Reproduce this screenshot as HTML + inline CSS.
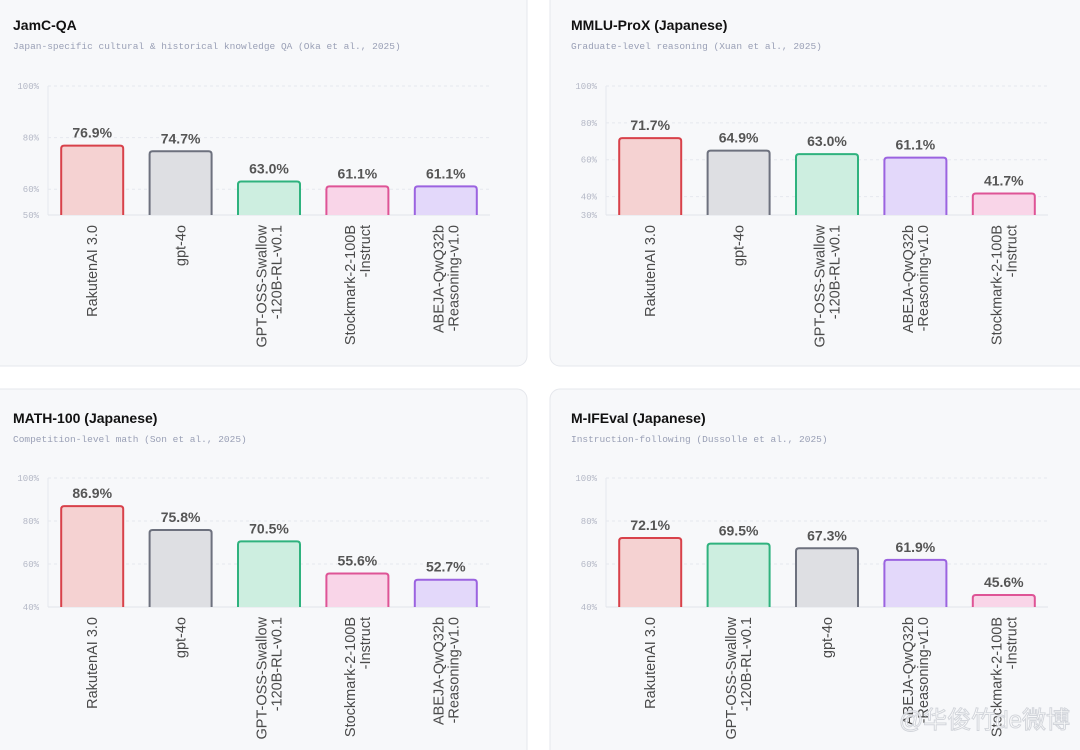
<!DOCTYPE html>
<html><head><meta charset="utf-8"><style>
html,body{margin:0;padding:0;background:#fff;width:1080px;height:750px;overflow:hidden}
svg{display:block}
.t{font-family:"Liberation Sans",sans-serif;font-weight:bold;font-size:14px;fill:#111}
.s{font-family:"Liberation Mono",monospace;font-size:9.5px;fill:#9aa0b6}
.tk{font-family:"Liberation Mono",monospace;font-size:9px;fill:#b4b8c6}
.v{font-family:"Liberation Sans",sans-serif;font-weight:bold;font-size:14px;fill:#555}
.c{font-family:"Liberation Sans",sans-serif;font-size:14.5px;fill:#4a4a4a}
</style></head><body>
<svg id="chart" width="1080" height="750"></svg>
<script>
const p1Names=["RakutenAI 3.0","gpt-4o","GPT-OSS-Swallow|-120B-RL-v0.1","Stockmark-2-100B|-Instruct","ABEJA-QwQ32b|-Reasoning-v1.0"];
const p1Values=[76.9,74.7,63.0,61.1,61.1];
const p1Colors=["red","gray","green","pink","purple"];
const p1Ticks=[50,60,80,100];
const p2Names=["RakutenAI 3.0","gpt-4o","GPT-OSS-Swallow|-120B-RL-v0.1","ABEJA-QwQ32b|-Reasoning-v1.0","Stockmark-2-100B|-Instruct"];
const p2Values=[71.7,64.9,63.0,61.1,41.7];
const p2Colors=["red","gray","green","purple","pink"];
const p2Ticks=[30,40,60,80,100];
const p3Names=["RakutenAI 3.0","gpt-4o","GPT-OSS-Swallow|-120B-RL-v0.1","Stockmark-2-100B|-Instruct","ABEJA-QwQ32b|-Reasoning-v1.0"];
const p3Values=[86.9,75.8,70.5,55.6,52.7];
const p3Colors=["red","gray","green","pink","purple"];
const p3Ticks=[40,60,80,100];
const p4Names=["RakutenAI 3.0","GPT-OSS-Swallow|-120B-RL-v0.1","gpt-4o","ABEJA-QwQ32b|-Reasoning-v1.0","Stockmark-2-100B|-Instruct"];
const p4Values=[72.1,69.5,67.3,61.9,45.6];
const p4Colors=["red","green","gray","purple","pink"];
const p4Ticks=[40,60,80,100];

const PAL={red:["#d8414a","#f5d2d2"],gray:["#6d717e","#dedfe3"],green:["#2fb27e","#cdeee0"],pink:["#de5496","#f9d5e8"],purple:["#9b63e0","#e3d8fa"]};
const NS="http://www.w3.org/2000/svg";
const svg=document.getElementById('chart');
function mk(tag,attrs,parent,text){const e=document.createElementNS(NS,tag);for(const k in attrs)e.setAttribute(k,attrs[k]);if(text!==undefined)e.textContent=text;(parent||svg).appendChild(e);return e;}

function panel(cfg,names,values,colors,ticks){
  const g=mk('g',{});
  
  
  const card=mk('rect',{x:cfg.cx,y:cfg.cy,width:cfg.cw,height:cfg.ch,rx:10,fill:"#f7f8fa",stroke:"#e5e7ec"},g);
  
  
  const t=mk('text',{x:cfg.ox+13,y:cfg.ty,class:'t'},g,cfg.title);
  
  
  const s=mk('text',{x:cfg.ox+13,y:cfg.ty+19,class:'s'},g,cfg.sub);
  
  
  const min=ticks[0],max=ticks[ticks.length-1];
  const y=v=>cfg.bottom-(v-min)/(max-min)*(cfg.bottom-cfg.top);
  const ax0=cfg.ox+48,ax1=cfg.ox+490,band=(ax1-ax0)/names.length;
  const x=i=>ax0+band*(i+0.5);
  ticks.forEach(tv=>{
    if(tv!==min){const gl=mk('line',{x1:ax0,x2:ax1,y1:y(tv),y2:y(tv),stroke:"#e6e8ee","stroke-dasharray":"3,3"},g);
      
      }
    const tl=mk('text',{x:ax0-9,y:y(tv)+3,class:'tk','text-anchor':'end'},g,tv+'%');
    
    
  });
  const ya=mk('line',{x1:ax0,x2:ax0,y1:cfg.top,y2:cfg.bottom,stroke:"#e6e8ee"},g);
  
  
  const xa=mk('line',{x1:ax0,x2:ax1,y1:cfg.bottom,y2:cfg.bottom,stroke:"#e2e4ea"},g);
  
  
  values.forEach((v,i)=>{
    const c=PAL[colors[i]],bw=62,yt=y(v);
    const b=mk('path',{d:`M${x(i)-bw/2},${cfg.bottom} V${yt+3} Q${x(i)-bw/2},${yt} ${x(i)-bw/2+3},${yt} H${x(i)+bw/2-3} Q${x(i)+bw/2},${yt} ${x(i)+bw/2},${yt+3} V${cfg.bottom}`,fill:c[1],stroke:c[0],"stroke-width":2},g);
    
    
    const vl=mk('text',{x:x(i),y:yt-8,class:'v','text-anchor':'middle'},g,v.toFixed(1)+'%');
    
    
    const lines=names[i].split('|');
    lines.forEach((ln,j)=>{
      const lx=x(i)+5+(j-(lines.length-1)/2)*15;
      const cl=mk('text',{x:0,y:0,class:'c','text-anchor':'end',transform:`translate(${lx},${cfg.bottom+10}) rotate(-90)`},g,ln);
      
      
    });
  });
}
panel({id:'jamc-qa',cx:-10,cy:-10,cw:537,ch:376,ox:0,ty:30,top:86,bottom:215,title:"JamC-QA",sub:"Japan-specific cultural & historical knowledge QA (Oka et al., 2025)"},p1Names,p1Values,p1Colors,p1Ticks);
panel({id:'mmlu-prox',cx:550,cy:-10,cw:540,ch:376,ox:558,ty:30,top:86,bottom:215,title:"MMLU-ProX (Japanese)",sub:"Graduate-level reasoning (Xuan et al., 2025)"},p2Names,p2Values,p2Colors,p2Ticks);
panel({id:'math-100',cx:-10,cy:389,cw:537,ch:380,ox:0,ty:423,top:478,bottom:607,title:"MATH-100 (Japanese)",sub:"Competition-level math (Son et al., 2025)"},p3Names,p3Values,p3Colors,p3Ticks);
panel({id:'m-ifeval',cx:550,cy:389,cw:540,ch:380,ox:558,ty:423,top:478,bottom:607,title:"M-IFEval (Japanese)",sub:"Instruction-following (Dussolle et al., 2025)"},p4Names,p4Values,p4Colors,p4Ticks);
const wm=mk('text',{x:1070,y:728,'text-anchor':'end','font-family':'"Liberation Sans","Noto Sans CJK SC",sans-serif','font-size':24,fill:'#ffffff',stroke:'#cfd2d8','stroke-width':1,opacity:0.9},svg,'@华俊竹de微博');


</script>
</body></html>
